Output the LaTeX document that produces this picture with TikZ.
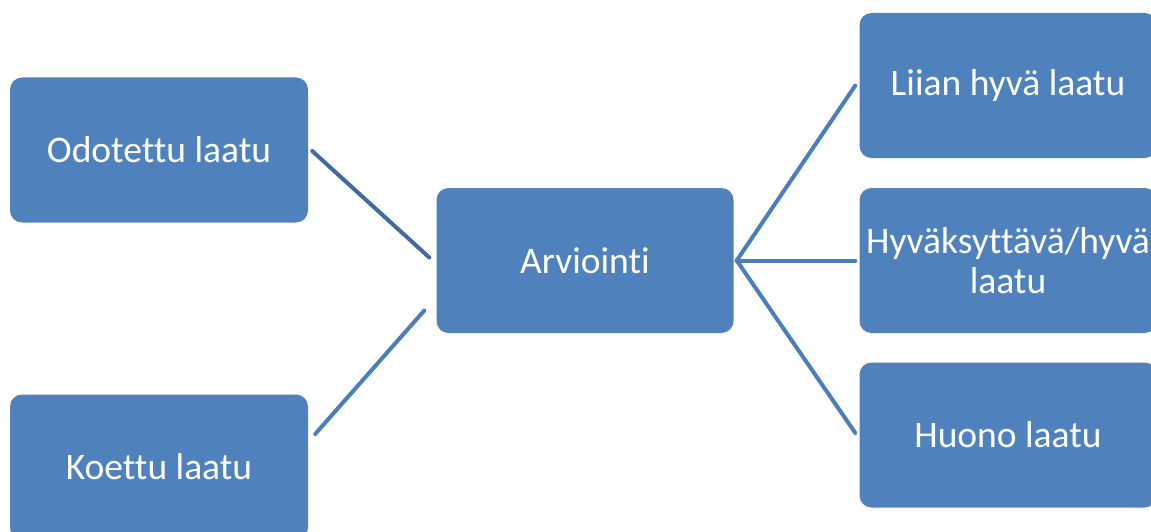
\documentclass[tikz,border=0pt]{standalone}
\usepackage{fontspec}
\setmainfont[Ligatures=NoCommon]{Carlito}
\usetikzlibrary{calc}
\definecolor{boxblue}{HTML}{4F81BD}
\definecolor{linedark}{HTML}{3F6B9F}
\definecolor{lineblue}{HTML}{4A7EBB}
\begin{document}
\begin{tikzpicture}[x=1pt,y=-1pt,
  qbox/.style={draw=none,fill=boxblue,rounded corners=12pt,minimum width=297pt,minimum height=145pt,
    text=white,font=\fontsize{37.5}{40}\selectfont,align=center,inner sep=0pt},
  conn/.style={line width=4pt,draw=lineblue,line cap=round}]
\useasboundingbox[fill=white] (0,0) rectangle (1151,532);
\node[qbox,minimum width=298pt] (o) at (159,150) {Odotettu laatu};
\node[qbox,minimum width=298pt] (k) at (159,467) {Koettu laatu};
\node[qbox] (a) at (585,260.5) {Arviointi};
\node[qbox] (l) at (1008,85.5) {Liian hyvä laatu};
\node[qbox] (h) at (1008,260.5) {Hyväksyttävä/hyvä\\laatu};
\node[qbox] (u) at (1008,435) {Huono laatu};
\draw[conn,draw=linedark] ($(o.east)+(4,1)$) -- ($(a.west)+(-7,-3)$);
\draw[conn] ($(k.east)+(7,-33)$) -- ($(a.west)+(-12,50)$);
\coordinate (j) at ($(a.east)+(3,0)$);
\draw[conn] (j) -- ($(l.west)+(-4,0)$);
\draw[conn] (j) -- ($(h.west)+(-4,0)$);
\draw[conn] (j) -- ($(u.west)+(-4,-2)$);
\end{tikzpicture}
\end{document}
